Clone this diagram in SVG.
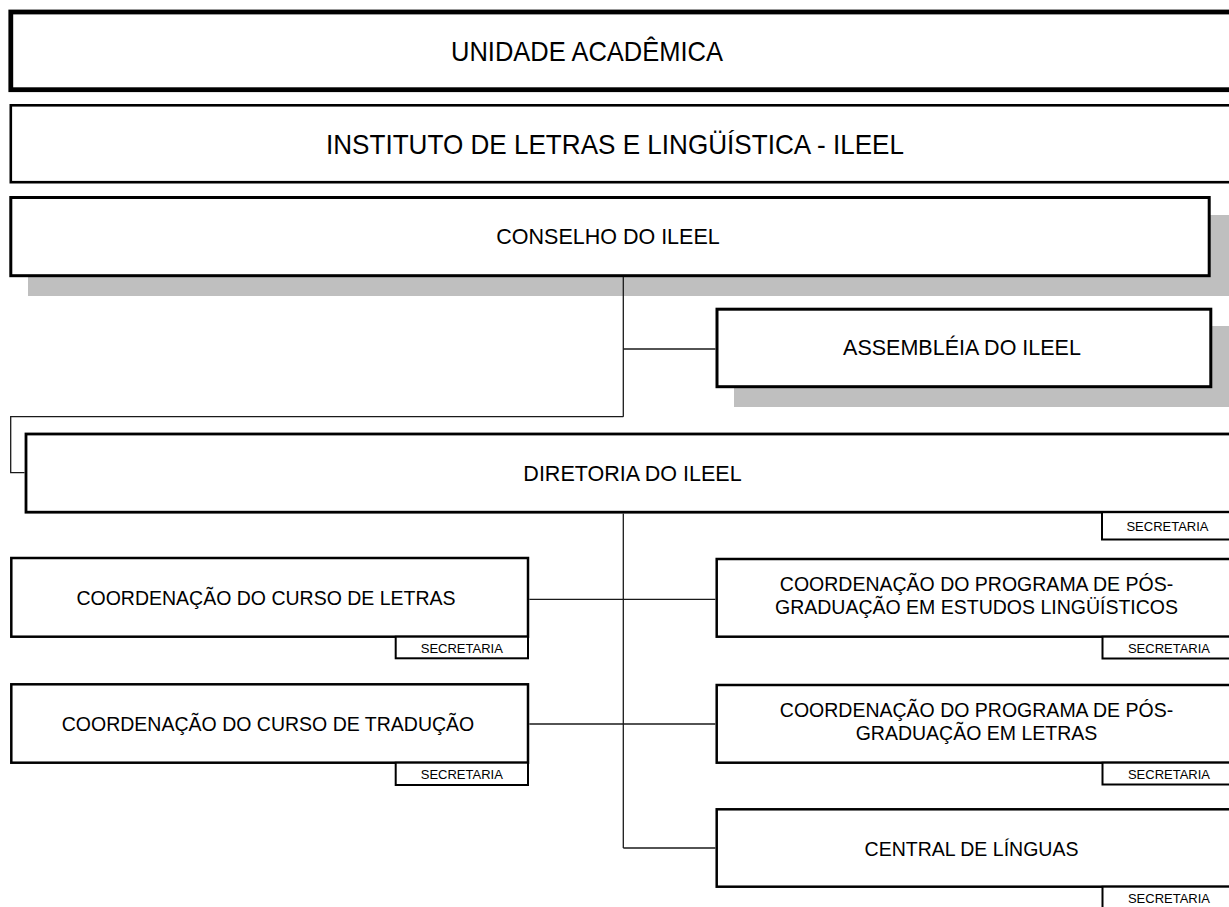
<svg xmlns="http://www.w3.org/2000/svg" width="1229" height="907" viewBox="0 0 1229 907">
<style>
  .box { fill: #ffffff; stroke: #000000; }
  .shadow { fill: #bfbfbf; stroke: none; }
  .sec { fill: #ffffff; stroke: #000000; stroke-width: 2; }
  text { font-family: "Liberation Sans", Arial, sans-serif; fill: #000000; text-anchor: middle; }
  .t1 { font-size: 28px; }
  .t2 { font-size: 21.5px; }
  .t3 { font-size: 19.5px; }
  .ts { font-size: 13px; }
  .conn { fill: none; stroke: #1a1a1a; stroke-width: 1.3; }
</style>
<rect x="0" y="0" width="1229" height="907" fill="#ffffff"/>

<g id="unidade">
  <rect class="box" x="10.8" y="12" width="1235" height="77.7" stroke-width="4.8"/>
  <text class="t1" x="587" y="61" textLength="272" lengthAdjust="spacingAndGlyphs">UNIDADE ACADÊMICA</text>
</g>

<g id="instituto">
  <rect class="box" x="10.8" y="105.3" width="1235" height="76.9" stroke-width="2.6"/>
  <text class="t1" x="615" y="154" textLength="578" lengthAdjust="spacingAndGlyphs">INSTITUTO DE LETRAS E LINGÜÍSTICA - ILEEL</text>
</g>

<g id="conselho">
  <rect class="shadow" x="28" y="215" width="1215" height="81"/>
  <rect class="box" x="10.8" y="197.5" width="1198.4" height="78.2" stroke-width="3"/>
  <text class="t2" x="608" y="243.5">CONSELHO DO ILEEL</text>
</g>

<g id="assembleia">
  <rect class="shadow" x="734" y="326" width="510" height="81"/>
  <rect class="box" x="717" y="309.2" width="493.8" height="77.5" stroke-width="3"/>
  <text class="t2" x="962" y="354.5">ASSEMBLÉIA DO ILEEL</text>
</g>

<g id="diretoria">
  <rect class="box" x="26" y="434" width="1220" height="78.2" stroke-width="2.8"/>
  <text class="t2" x="632.5" y="481">DIRETORIA DO ILEEL</text>
  <rect class="sec" x="1102" y="512.2" width="140" height="27.3"/>
  <text class="ts" x="1167.5" y="530.5">SECRETARIA</text>
</g>

<g id="curso-letras">
  <rect class="box" x="11.3" y="558" width="516.7" height="78.7" stroke-width="2.5"/>
  <text class="t3" x="266" y="605">COORDENAÇÃO DO CURSO DE LETRAS</text>
  <rect class="sec" x="395.7" y="636.7" width="132.3" height="21.6"/>
  <text class="ts" x="461.8" y="652.8">SECRETARIA</text>
</g>

<g id="curso-traducao">
  <rect class="box" x="11.3" y="684.3" width="516.7" height="78.4" stroke-width="2.5"/>
  <text class="t3" x="268" y="731">COORDENAÇÃO DO CURSO DE TRADUÇÃO</text>
  <rect class="sec" x="395.7" y="762.7" width="132.3" height="22.3"/>
  <text class="ts" x="461.8" y="779.3">SECRETARIA</text>
</g>

<g id="pg-linguisticos">
  <rect class="box" x="716.7" y="559" width="530" height="77.7" stroke-width="2.5"/>
  <text class="t3" x="976.5" y="590.5">COORDENAÇÃO DO PROGRAMA DE PÓS-</text>
  <text class="t3" x="976.5" y="613.5">GRADUAÇÃO EM ESTUDOS LINGÜÍSTICOS</text>
  <rect class="sec" x="1102.5" y="636.7" width="140" height="21.8"/>
  <text class="ts" x="1169" y="652.8">SECRETARIA</text>
</g>

<g id="pg-letras">
  <rect class="box" x="716.7" y="685" width="530" height="77.7" stroke-width="2.5"/>
  <text class="t3" x="976.5" y="716.5">COORDENAÇÃO DO PROGRAMA DE PÓS-</text>
  <text class="t3" x="976.5" y="739.5">GRADUAÇÃO EM LETRAS</text>
  <rect class="sec" x="1102.5" y="762.7" width="140" height="21.8"/>
  <text class="ts" x="1169" y="779.3">SECRETARIA</text>
</g>

<g id="central-linguas">
  <rect class="box" x="716.7" y="809.3" width="530" height="77.4" stroke-width="2.5"/>
  <text class="t3" x="971.5" y="856">CENTRAL DE LÍNGUAS</text>
  <rect class="sec" x="1102.5" y="886.7" width="140" height="30"/>
  <text class="ts" x="1169" y="902.5">SECRETARIA</text>
</g>

<g id="connectors">
  <path class="conn" d="M623.3,277 V416.7"/>
  <path class="conn" d="M623.3,349 H715.5"/>
  <path class="conn" d="M623.3,416.7 H10.7 V472.7 H24.6"/>
  <path class="conn" d="M623.3,513.6 V848"/>
  <path class="conn" d="M529.3,599.3 H715.4"/>
  <path class="conn" d="M529.3,724 H715.4"/>
  <path class="conn" d="M623.3,848 H715.4"/>
</g>
</svg>
